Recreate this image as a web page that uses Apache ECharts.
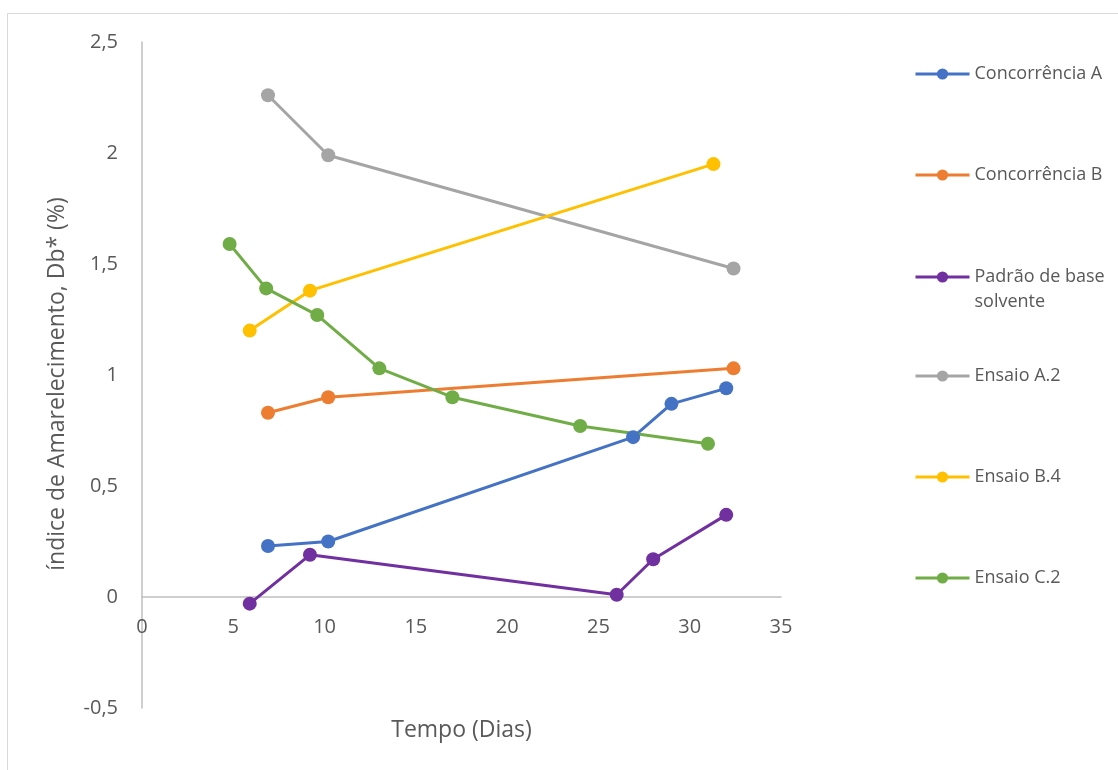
<!DOCTYPE html>
<html>
<head>
<meta charset="utf-8">
<title>Índice de Amarelecimento</title>
<script src="https://cdn.jsdelivr.net/npm/echarts@6/dist/echarts.min.js"></script>
<style>
  html, body { margin: 0; padding: 0; background: #ffffff; }
  #chart { width: 1118px; height: 770px; }
</style>
</head>
<body>
<div id="chart"></div>
<script>
// Tempo (dias) e índice de amarelecimento Db* (%) de cada amostra
const concorrenciaA_x = [6.9, 10.2, 26.9, 29.0, 32.0];
const concorrenciaA_y = [0.23, 0.25, 0.72, 0.87, 0.94];

const concorrenciaB_x = [6.9, 10.2, 32.4];
const concorrenciaB_y = [0.83, 0.90, 1.03];

const padrao_x = [5.9, 9.2, 26.0, 28.0, 32.0];
const padrao_y = [-0.03, 0.19, 0.01, 0.17, 0.37];

const ensaioA2_x = [6.9, 10.2, 32.4];
const ensaioA2_y = [2.26, 1.99, 1.48];

const ensaioB4_x = [5.9, 9.2, 31.3];
const ensaioB4_y = [1.20, 1.38, 1.95];

const ensaioC2_x = [4.8, 6.8, 9.6, 13.0, 17.0, 24.0, 31.0];
const ensaioC2_y = [1.59, 1.39, 1.27, 1.03, 0.90, 0.77, 0.69];

const seriesNames = ['Concorrência A', 'Concorrência B', 'Padrão de base solvente',
                     'Ensaio A.2', 'Ensaio B.4', 'Ensaio C.2'];
const seriesColors = ['#4472C4', '#ED7D31', '#7030A0', '#A5A5A5', '#FFC000', '#70AD47'];
const seriesX = [concorrenciaA_x, concorrenciaB_x, padrao_x, ensaioA2_x, ensaioB4_x, ensaioC2_x];
const seriesY = [concorrenciaA_y, concorrenciaB_y, padrao_y, ensaioA2_y, ensaioB4_y, ensaioC2_y];

const FONT = '"Open Sans", "Noto Sans", sans-serif';
const TEXT_COLOR = '#595959';
const AXIS_COLOR = '#BFBFBF';

const comma = v => String(v).replace('.', ',');

const series = seriesNames.map((name, i) => ({
  name: name,
  type: 'line',
  data: seriesX[i].map((x, k) => [x, seriesY[i][k]]),
  symbol: 'circle',
  symbolSize: 14,
  showSymbol: true,
  lineStyle: { width: 3, color: seriesColors[i] },
  itemStyle: { color: seriesColors[i] },
  emphasis: { disabled: true },
  animation: false
}));

// one legend block per series, stacked down the right-hand side;
// the two-line entry gets a leading blank line so its first line sits on the marker
const LEGEND_LINE = 25;
const legendCenters = [74, 175, 277, 376, 477, 578];
const legendLabel = n => n === 'Padrão de base solvente' ? '\nPadrão de base\nsolvente' : n;
const legends = seriesNames.map((name, i) => {
  const lines = legendLabel(name).split('\n').length;
  const boxHeight = Math.max(14, lines * LEGEND_LINE);
  return {
    data: [name],
    left: 914,
    top: legendCenters[i] - boxHeight / 2,
    padding: 0,
    orient: 'vertical',
    itemWidth: 54,
    itemHeight: 14,
    itemGap: 4,
    selectedMode: false,
    lineStyle: { width: 3 },
    formatter: legendLabel,
    textStyle: {
      fontFamily: FONT, fontSize: 18, color: TEXT_COLOR, lineHeight: LEGEND_LINE
    }
  };
});

const chart = echarts.init(document.getElementById('chart'), null, { renderer: 'canvas' });
chart.setOption({
  backgroundColor: '#ffffff',
  animation: false,
  color: seriesColors,
  graphic: [{
    type: 'rect',
    shape: { x: 7.5, y: 13.5, width: 1300, height: 1000 },
    style: { fill: 'none', stroke: '#D9D9D9', lineWidth: 1 },
    silent: true,
    z: -10
  }],
  legend: legends,
  grid: {
    left: 142, right: 337, top: 42, bottom: 62,
    containLabel: false,
    outerBoundsMode: 'none'
  },
  xAxis: {
    type: 'value',
    min: 0, max: 35, interval: 5,
    // the horizontal axis is drawn across the zero level, 0.5 units above the grid bottom
    offset: -111,
    name: 'Tempo (Dias)',
    nameLocation: 'middle',
    nameGap: 122,
    nameTextStyle: { fontFamily: FONT, fontSize: 23, color: TEXT_COLOR },
    axisLine: { show: true, onZero: false, lineStyle: { color: AXIS_COLOR, width: 1.5 } },
    axisTick: { show: false },
    splitLine: { show: false },
    axisLabel: { fontFamily: FONT, fontSize: 20, color: TEXT_COLOR, margin: 20 }
  },
  yAxis: {
    type: 'value',
    min: -0.5, max: 2.5, interval: 0.5,
    name: 'índice de Amarelecimento, Db* (%)',
    nameLocation: 'middle',
    nameGap: 73,
    nameRotate: 90,
    nameTextStyle: { fontFamily: FONT, fontSize: 23, color: TEXT_COLOR, padding: [0, 18, 0, 0] },
    axisLine: { show: true, onZero: false, lineStyle: { color: AXIS_COLOR, width: 1.5 } },
    axisTick: { show: false },
    splitLine: { show: false },
    axisLabel: { fontFamily: FONT, fontSize: 20, color: TEXT_COLOR, margin: 24, formatter: comma }
  },
  series: series
});
</script>
</body>
</html>
